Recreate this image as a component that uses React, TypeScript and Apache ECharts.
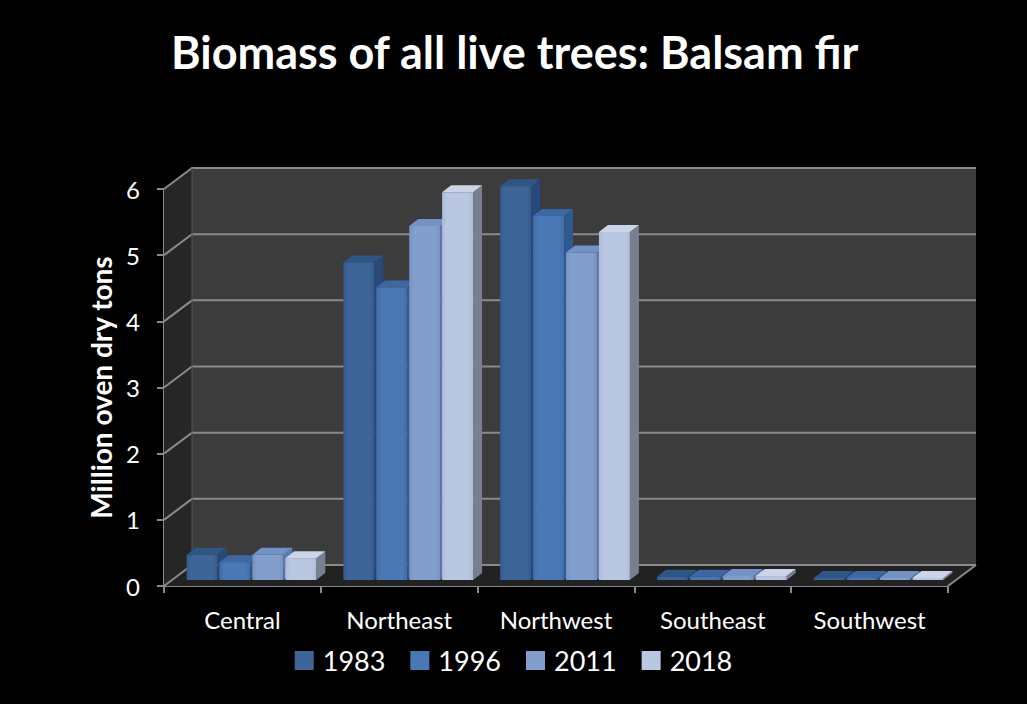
import React, { useEffect, useRef } from "react";
import * as echarts from "echarts";

const categories = ["Central", "Northeast", "Northwest", "Southeast", "Southwest"];
const years = ["1983", "1996", "2011", "2018"];
const values1983 = [0.38, 4.8, 5.95, 0.05, 0.02];
const values1996 = [0.27, 4.42, 5.5, 0.05, 0.02];
const values2011 = [0.38, 5.35, 4.95, 0.06, 0.03];
const values2018 = [0.33, 5.86, 5.26, 0.06, 0.03];
const seriesValues = [values1983, values1996, values2011, values2018];
const yTicks = [0, 1, 2, 3, 4, 5, 6];

const palette = [
  { front: "#3e6598", frontDark: "#355a89", top: "#2f5585", side: "#27487a" },
  { front: "#4a78b5", frontDark: "#416ca6", top: "#3d68a3", side: "#30598f" },
  { front: "#819ecc", frontDark: "#7592c2", top: "#7393c6", side: "#5d7aa9" },
  { front: "#bac7e2", frontDark: "#aebcd8", top: "#cbd4e8", side: "#76808f" },
];

const WALL_DX = 28;
const WALL_DY = -21;
const FRONT_DX = 8;
const FRONT_DY = -6;
const DEPTH_DX = 9;
const DEPTH_DY = -7;

function makeBarRender(si: number) {
  return (params: any, api: any) => {
    const cat = api.value(0);
    const val = api.value(1);
    const base = api.coord([cat, 0]);
    const top = api.coord([cat, val]);
    const band = api.size([1, 0])[0];
    const pitch = band * 0.21;
    const w = pitch * 0.94;
    const x0 = base[0] - 2 * pitch + si * pitch + FRONT_DX + 2;
    const yb = base[1] + FRONT_DY;
    const yt = Math.min(top[1] + FRONT_DY, yb - 2);
    const c = palette[si];
    return {
      type: "group",
      children: [
        {
          type: "polygon",
          shape: {
            points: [
              [x0 + w, yt],
              [x0 + w + DEPTH_DX, yt + DEPTH_DY],
              [x0 + w + DEPTH_DX, yb + DEPTH_DY],
              [x0 + w, yb],
            ],
          },
          style: { fill: c.side },
        },
        {
          type: "polygon",
          shape: {
            points: [
              [x0, yt],
              [x0 + DEPTH_DX, yt + DEPTH_DY],
              [x0 + w + DEPTH_DX, yt + DEPTH_DY],
              [x0 + w, yt],
            ],
          },
          style: { fill: c.top },
        },
        {
          type: "rect",
          shape: { x: x0, y: yt, width: w, height: yb - yt },
          style: {
            fill: new echarts.graphic.LinearGradient(0, 0, 1, 0, [
              { offset: 0, color: c.frontDark },
              { offset: 0.15, color: c.front },
              { offset: 0.85, color: c.front },
              { offset: 1, color: c.frontDark },
            ]),
          },
        },
      ],
    };
  };
}

function renderWalls(params: any, api: any) {
  const cs = params.coordSys;
  const x = cs.x;
  const y = cs.y;
  const w = cs.width;
  const h = cs.height;
  const children: any[] = [
    {
      type: "polygon",
      shape: {
        points: [
          [x + WALL_DX, y + WALL_DY],
          [x + w + WALL_DX, y + WALL_DY],
          [x + w + WALL_DX, y + h + WALL_DY],
          [x + WALL_DX, y + h + WALL_DY],
        ],
      },
      style: { fill: "#3c3c3c" },
    },
    {
      type: "polygon",
      shape: {
        points: [
          [x, y],
          [x + WALL_DX, y + WALL_DY],
          [x + WALL_DX, y + h + WALL_DY],
          [x, y + h],
        ],
      },
      style: { fill: "#262626" },
    },
    {
      type: "polygon",
      shape: {
        points: [
          [x, y + h],
          [x + WALL_DX, y + h + WALL_DY],
          [x + w + WALL_DX, y + h + WALL_DY],
          [x + w, y + h],
        ],
      },
      style: { fill: "#222222" },
    },
  ];
  yTicks.forEach((v) => {
    const yy = api.coord([0, v])[1];
    children.push({
      type: "polyline",
      shape: {
        points: [
          [x, yy],
          [x + WALL_DX, yy + WALL_DY],
          [x + w + WALL_DX, yy + WALL_DY],
        ],
      },
      style: { stroke: "#8a8a8a", lineWidth: 2, fill: null },
    });
  });
  children.push({
    type: "polyline",
    shape: {
      points: [
        [x + w, y + h],
        [x + w + WALL_DX, y + h + WALL_DY],
      ],
    },
    style: { stroke: "#8a8a8a", lineWidth: 2, fill: null },
  });
  children.push({
    type: "line",
    shape: { x1: x + WALL_DX, y1: y + WALL_DY, x2: x + WALL_DX, y2: y + h + WALL_DY },
    style: { stroke: "#555555", lineWidth: 1 },
  });
  return { type: "group", children };
}

export default function App() {
  const ref = useRef<HTMLDivElement>(null);
  useEffect(() => {
    if (!ref.current) return;
    const chart = echarts.init(ref.current, null, { renderer: "svg" });
    const font = "Lato, 'Open Sans', sans-serif";
    const option: any = {
      animation: false,
      backgroundColor: "#000000",
      title: {
        text: "Biomass of all live trees: Balsam fir",
        left: 166,
        top: 24,
        textStyle: { color: "#ffffff", fontSize: 45, fontWeight: "bold", fontFamily: font },
      },
      legend: {
        data: years.map((y, i) => ({ name: y, itemStyle: { color: palette[i].front } })),
        bottom: 25,
        left: "center",
        icon: "rect",
        itemWidth: 19,
        itemHeight: 19,
        itemGap: 25,
        textStyle: { color: "#ffffff", fontSize: 27, fontFamily: font, padding: [0, 0, 0, 4] },
      },
      grid: { left: 164, right: 79, top: 189, bottom: 118 },
      xAxis: {
        type: "category",
        data: categories,
        axisLine: { show: true, lineStyle: { color: "#8a8a8a", width: 2 } },
        axisTick: { show: true, length: 7, lineStyle: { color: "#8a8a8a", width: 2 } },
        axisLabel: { color: "#ffffff", fontSize: 24, fontFamily: font, margin: 21 },
        splitLine: { show: false },
      },
      yAxis: {
        type: "value",
        min: 0,
        max: 6,
        interval: 1,
        name: "Million oven dry tons",
        nameLocation: "middle",
        nameGap: 49,
        nameTextStyle: { color: "#ffffff", fontSize: 28, fontWeight: "bold", fontFamily: font },
        axisLine: { show: true, lineStyle: { color: "#8a8a8a", width: 2 } },
        axisTick: { show: true, length: 7, lineStyle: { color: "#8a8a8a", width: 2 } },
        axisLabel: { color: "#ffffff", fontSize: 24, fontFamily: font, margin: 24 },
        splitLine: { show: false },
      },
      series: [
        {
          type: "custom",
          name: "walls",
          renderItem: renderWalls,
          data: [[0, 0]],
          encode: { x: 0, y: 1 },
          z: 1,
          silent: true,
        },
        ...years.map((y, i) => ({
          type: "custom",
          name: y,
          renderItem: makeBarRender(i),
          data: seriesValues[i].map((v, j) => [j, v]),
          encode: { x: 0, y: 1 },
          itemStyle: { color: palette[i].front },
          z: 3,
        })),
      ],
    };
    chart.setOption(option);
    return () => chart.dispose();
  }, []);
  return (
    <div
      ref={ref}
      style={{ position: "fixed", left: 0, top: 0, width: 1027, height: 704, background: "#000" }}
    />
  );
}
